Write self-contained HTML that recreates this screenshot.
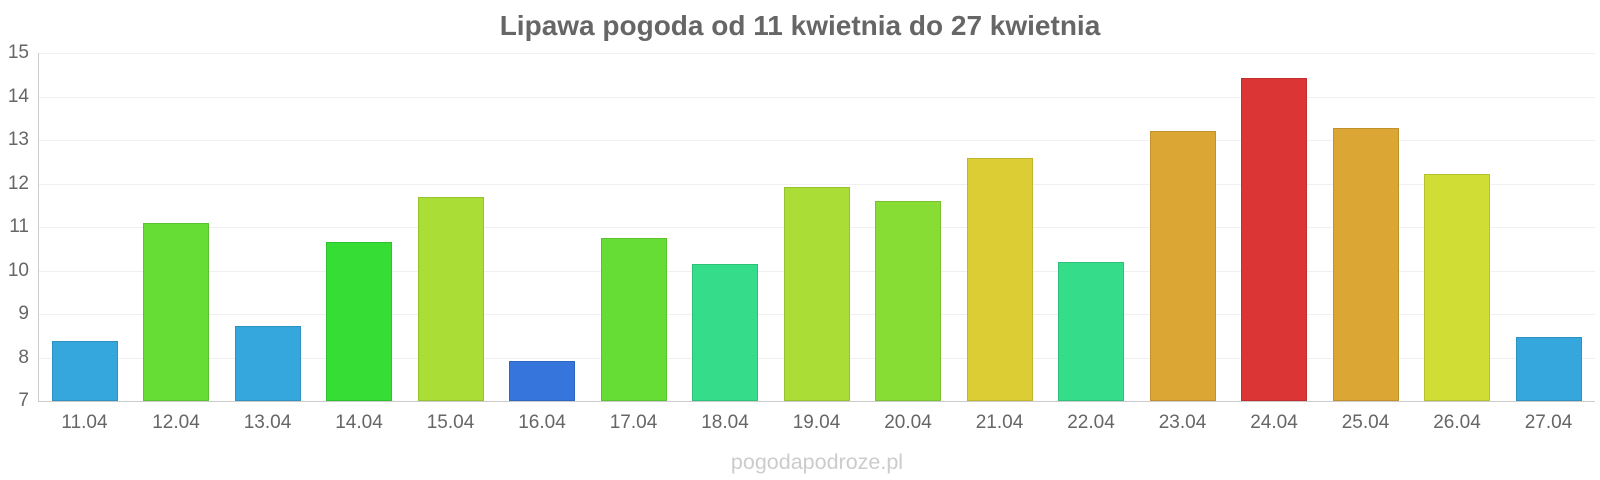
<!DOCTYPE html>
<html><head><meta charset="utf-8"><style>
body{margin:0;width:1600px;height:480px;background:#fff;font-family:"Liberation Sans",sans-serif;position:relative;overflow:hidden}
.t{position:absolute;top:10px;left:0;width:1600px;text-align:center;font-size:28px;font-weight:bold;color:#666}
.g{position:absolute;left:39px;width:1556px;height:1px;background:#f0f0f0}
.yl{position:absolute;left:0;width:29px;text-align:right;font-size:19px;color:#666}
.b{position:absolute;width:66px;box-sizing:border-box;border:1px solid rgba(0,0,0,0.12)}
.xl{position:absolute;top:412px;width:100px;text-align:center;font-size:19px;color:#666}
.w{position:absolute;top:450px;left:17px;width:1600px;text-align:center;font-size:21.5px;color:#ccc}
</style></head><body>
<div class="t">Lipawa pogoda od 11 kwietnia do 27 kwietnia</div>
<div id="c"></div>
<div style="position:absolute;left:38px;top:53px;width:1px;height:349px;background:#ccc"></div>
<div style="position:absolute;left:38px;top:401px;width:1557px;height:1px;background:#ccc"></div>
<div class="w">pogodapodroze.pl</div>
<script>
var c=document.getElementById('c'),h='',U=43.5,B=401;
for(var v=7;v<=15;v++){var y=B-(v-7)*U;h+='<div class="g" style="top:'+y+'px"></div><div class="yl" style="top:'+(y-11)+'px">'+v+'</div>';}
var d=[[8.38,'#35a7dc'],[11.1,'#66dd35'],[8.72,'#35a7dc'],[10.66,'#35dd35'],[11.68,'#aadd35'],[7.92,'#3575dc'],[10.74,'#66dd35'],[10.15,'#35dc8a'],[11.93,'#aadd35'],[11.59,'#88dd35'],[12.58,'#dccd35'],[10.19,'#35dc8a'],[13.2,'#dca635'],[14.42,'#dc3535'],[13.27,'#dca635'],[12.21,'#cfdd35'],[8.47,'#35a7dc']];
d.forEach(function(e,i){var cx=84.5+i*91.5,top=B-(e[0]-7)*U;
h+='<div class="b" style="left:'+(cx-33)+'px;top:'+top+'px;height:'+(B-top)+'px;background:'+e[1]+'"></div>';
h+='<div class="xl" style="left:'+(cx-50)+'px">'+(11+i)+'.04</div>';});
c.innerHTML=h;
</script>
</body></html>
